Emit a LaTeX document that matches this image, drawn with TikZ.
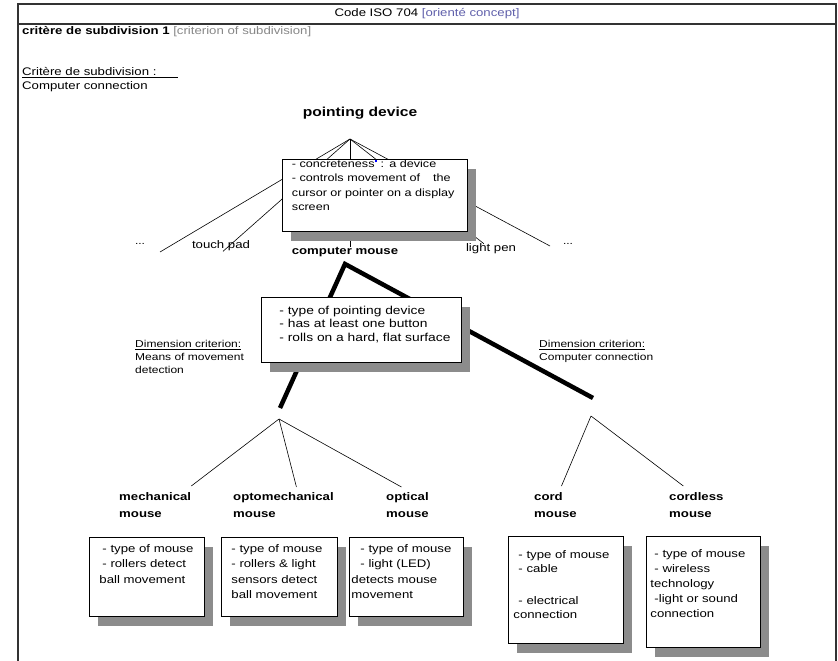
\documentclass[tikz,border=0pt]{standalone}
\usepackage{fontspec}
\setmainfont{Liberation Sans}[FakeStretch=1.2]
\usetikzlibrary{positioning, shadows}
\definecolor{conceptblue}{RGB}{95,95,170}
\definecolor{notegray}{RGB}{135,135,135}
\definecolor{shadowgray}{RGB}{140,140,140}

\begin{document}
\begin{tikzpicture}[x=1pt, y=-1pt,
  every node/.style={inner sep=0pt, font=\fontsize{11}{13}\selectfont},
  frameline/.style={line width=1.2pt, draw=black!80},
  twig/.style={line width=0.6pt},
  branch/.style={line width=4.5pt},
  kind/.style={anchor=north west, align=left, font=\bfseries\fontsize{11}{17}\selectfont},
  defbox/.style={draw, line width=0.9pt, fill=white, anchor=north west, align=left,
    inner xsep=10pt, inner ysep=3pt, text height=12pt, font=\fontsize{11}{15.5}\selectfont,
    drop shadow={shadow xshift=9pt, shadow yshift=-10pt, fill=shadowgray, opacity=1}},
  dimnote/.style={anchor=north west, align=left, font=\fontsize{10}{13}\selectfont}]
  \useasboundingbox (0,0) rectangle (838,661);

  \draw[frameline] (18,661) -- (18,4) -- (836,4) -- (836,661);
  \draw[frameline] (18,24) -- (836,24);

  \node (title) at (427,14) {Code ISO 704 \textcolor{conceptblue}{[orienté concept]}};
  \node[anchor=west] (crit) at (22,32) {\textbf{critère de subdivision 1} \textcolor{notegray}{[criterion of subdivision]}};
  \node[anchor=west] (critlabel) at (22,73) {\underline{Critère de subdivision :\hspace{22pt}}};
  \node[anchor=west] (critvalue) at (22,87) {Computer connection};

  \node[font=\bfseries\fontsize{13}{15}\selectfont] (pdevice) at (360,113) {pointing device};
  \node[font=\fontsize{10}{11}\selectfont] (etcLeft) at (140,244) {...};
  \node[font=\fontsize{11}{12}\selectfont] (touchpad) at (221,246) {touch pad};
  \node[font=\bfseries\fontsize{11}{13}\selectfont] (cmouse) at (345,252) {computer mouse};
  \node[font=\fontsize{11}{12}\selectfont] (lightpen) at (491,249) {light pen};
  \node[font=\fontsize{10}{11}\selectfont] (etcRight) at (568,244) {...};

  \coordinate (pdFork) at (350,139);
  \coordinate (etcLeftEnd) at (160,252);
  \coordinate (etcRightEnd) at (550,246);
  \draw[twig] (pdFork) -- (etcLeftEnd);
  \draw[twig] (pdFork) -- ([xshift=2pt]touchpad.south);
  \draw[twig] (pdFork) -- (pdFork |- cmouse.north);
  \draw[twig] (pdFork) -- ([xshift=18pt]lightpen.north west);
  \draw[twig] (pdFork) -- (etcRightEnd);

  \node[dimnote] (dimMeans) at (135,340) {\underline{Dimension criterion:}\\Means of movement\\detection};
  \node[dimnote] (dimConn) at (539,340) {\underline{Dimension criterion:}\\Computer connection};

  \coordinate (cmTop) at (345,264);
  \coordinate (dimLeft) at (280,408);
  \coordinate (dimRight) at (593,398);
  \draw[branch] (dimLeft) -- (cmTop) -- (dimRight);

  \node[kind] (mechanical) at (119,492) {mechanical\\mouse};
  \node[kind] (optomech) at (233,492) {optomechanical\\mouse};
  \node[kind] (optical) at (386,492) {optical\\mouse};
  \node[kind] (cord) at (534,492) {cord\\mouse};
  \node[kind] (cordless) at (669,492) {cordless\\mouse};

  \coordinate (leftFork) at (279,419);
  \coordinate (rightFork) at (591,416);
  \draw[twig] (leftFork) -- ([yshift=6pt]mechanical.north east);
  \draw[twig] (leftFork) -- ([xshift=13pt, yshift=5pt]optomech.north);
  \draw[twig] (leftFork) -- ([xshift=-6pt, yshift=5pt]optical.north);
  \draw[twig] (rightFork) -- ([xshift=6pt, yshift=6pt]cord.north);
  \draw[twig] (rightFork) -- ([xshift=-13pt, yshift=6pt]cordless.north);

  \node[defbox, inner xsep=7pt, inner ysep=1pt, text width=166pt, minimum width=185pt,
    text height=7pt, text depth=63pt, font=\fontsize{10.5}{14.5}\selectfont] (pdDef) at (282,159)
    {- concreteness\raisebox{5pt}{\textcolor{blue}{\rule{2.5pt}{2.5pt}}} : a device\\
     \makebox[\linewidth][s]{- controls movement of \hspace{6pt} the}\\
     \makebox[\linewidth][s]{cursor or pointer on a display}\\
     screen};
  \node[defbox, inner xsep=4pt, inner ysep=4pt, text width=192pt, text height=13pt,
    text depth=44pt, font=\fontsize{11.5}{13.5}\selectfont] (cmDef) at (261,297)
    {\hspace*{14pt}- type of pointing device\\
     \hspace*{14pt}- has at least one button\\
     \hspace*{14pt}- rolls on a hard, flat surface};

  \node[defbox, text width=95pt, text depth=61pt] (mechDef) at (89,537)
    {\hspace*{3pt}- type of mouse\\\hspace*{3pt}- rollers detect\\ball movement};
  \node[defbox, text width=96pt, text depth=61pt] (optomechDef) at (221,537)
    {- type of mouse\\- rollers \& light\\sensors detect\\ball movement};
  \node[defbox, inner xsep=2pt, text width=110pt, text depth=61pt] (opticalDef) at (349,537)
    {\hspace*{9pt}- type of mouse\\\hspace*{9pt}- light (LED)\\detects mouse\\movement};
  \node[defbox, inner xsep=5pt, text width=105pt, text height=19pt, text depth=82pt,
    font=\fontsize{11}{14.5}\selectfont] (cordDef) at (508,536)
    {\hspace*{5pt}- type of mouse\\\hspace*{5pt}- cable\\[17pt]\hspace*{5pt}- electrical\\connection};
  \node[defbox, inner xsep=4pt, text width=106pt, text height=18pt, text depth=87pt,
    font=\fontsize{11}{15}\selectfont] (cordlessDef) at (646,536)
    {\hspace*{4pt}- type of mouse\\\hspace*{4pt}- wireless\\technology\\\hspace*{4pt}-light or sound\\connection};
\end{tikzpicture}
\end{document}
